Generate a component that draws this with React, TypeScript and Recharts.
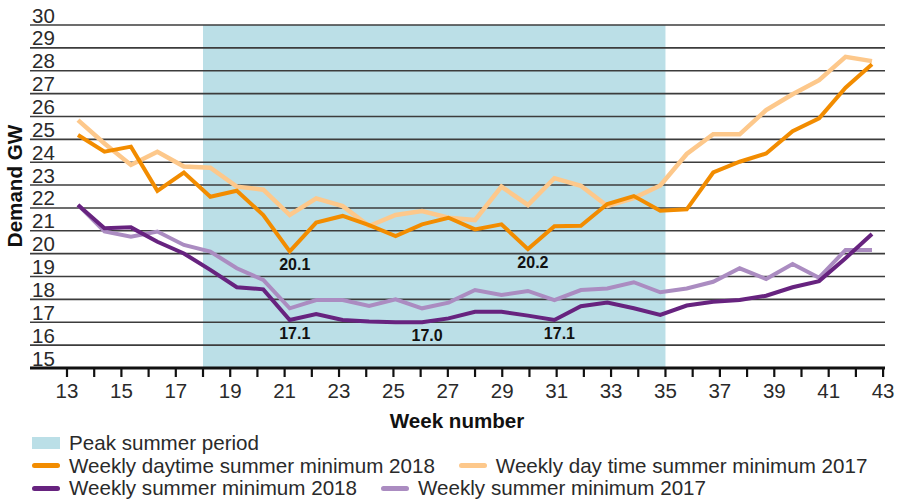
import React from 'react';
import { LineChart, Line, XAxis, YAxis, ReferenceArea, ReferenceLine } from 'recharts';

// week numbers 13..43, one value per week for each series (GW)
const weeks = [13, 14, 15, 16, 17, 18, 19, 20, 21, 22, 23, 24, 25, 26, 27, 28, 29, 30, 31, 32, 33, 34, 35, 36, 37, 38, 39, 40, 41, 42, 43];

const daytime2018 = [25.19, 24.46, 24.68, 22.75, 23.55, 22.49, 22.75, 21.69, 20.1, 21.36, 21.65, 21.25, 20.77, 21.28, 21.57, 21.06, 21.28, 20.2, 21.2, 21.22, 22.17, 22.52, 21.88, 21.94, 23.55, 24.02, 24.38, 25.36, 25.92, 27.26, 28.28];
const daytime2017 = [25.84, 24.82, 23.88, 24.46, 23.81, 23.76, 22.93, 22.8, 21.69, 22.42, 22.08, 21.21, 21.69, 21.86, 21.57, 21.47, 22.93, 22.13, 23.3, 22.97, 22.08, 22.43, 22.98, 24.36, 25.22, 25.22, 26.28, 26.97, 27.59, 28.61, 28.42];
const weekly2018 = [22.13, 21.11, 21.15, 20.52, 20.01, 19.29, 18.53, 18.44, 17.1, 17.36, 17.1, 17.03, 17.0, 17.0, 17.17, 17.46, 17.46, 17.29, 17.1, 17.7, 17.86, 17.61, 17.32, 17.73, 17.9, 17.97, 18.16, 18.53, 18.8, 19.8, 20.86];
const weekly2017 = [22.13, 20.97, 20.74, 20.97, 20.38, 20.09, 19.36, 18.85, 17.61, 17.97, 17.97, 17.71, 18.0, 17.61, 17.86, 18.41, 18.19, 18.37, 17.97, 18.41, 18.48, 18.75, 18.31, 18.48, 18.77, 19.36, 18.89, 19.55, 18.95, 20.16, 20.16];

// weeks whose minimum is labelled on the chart
const daytime2018Labels = [21, 30];
const weekly2018Labels = [21, 26, 31];

const peakSummer = [18, 35];
const yTicks = [15, 16, 17, 18, 19, 20, 21, 22, 23, 24, 25, 26, 27, 28, 29, 30];
const gridValues = [16, 17, 18, 19, 20, 21, 22, 23, 24, 25, 26, 27, 28, 29, 30];

const FONT = '"Liberation Sans", Arial, Helvetica, sans-serif';
const BLUE = '#bbdfe7';
const ORANGE = '#f28c00';
const LIGHT_ORANGE = '#fdc88b';
const PURPLE = '#67237f';
const LIGHT_PURPLE = '#ab8cc1';

const rows = weeks.map((week, i) => ({
  week,
  daytime2018: daytime2018[i],
  daytime2017: daytime2017[i],
  weekly2018: weekly2018[i],
  weekly2017: weekly2017[i],
}));

const makeDipLabel = (labelWeeks: number[]) => (props: any) => {
  const { x, y, index, value } = props;
  if (!labelWeeks.includes(weeks[index])) return null;
  return (
    <text x={x + 5} y={y + 19} textAnchor="middle" fontFamily={FONT} fontSize={16} fontWeight="bold" fill="#111">
      {Number(value).toFixed(1)}
    </text>
  );
};

const YTick = (props: any) => {
  const { y, payload } = props;
  return (
    <text x={32} y={y - 2.5} fontFamily={FONT} fontSize={20.5} fill="#2a2a2a">
      {payload.value}
    </text>
  );
};

const XTick = (props: any) => {
  const { x, payload } = props;
  if (payload.value % 2 === 0) return <g />;
  return (
    <text x={x} y={398} textAnchor="middle" fontFamily={FONT} fontSize={20.5} fill="#2a2a2a">
      {payload.value}
    </text>
  );
};

const legendRows = [
  [{ label: 'Peak summer period', color: BLUE, box: true }],
  [
    { label: 'Weekly daytime summer minimum 2018', color: ORANGE, box: false },
    { label: 'Weekly day time summer minimum 2017', color: LIGHT_ORANGE, box: false },
  ],
  [
    { label: 'Weekly summer minimum 2018', color: PURPLE, box: false },
    { label: 'Weekly summer minimum 2017', color: LIGHT_PURPLE, box: false },
  ],
];

const ChartLegend = () => (
  <div style={{ position: 'absolute', left: 32, top: 432, fontFamily: FONT, fontSize: 20.6, color: '#2a2a2a' }}>
    {legendRows.map((row, r) => (
      <div key={r} style={{ display: 'flex', alignItems: 'center', height: 22.5, whiteSpace: 'nowrap' }}>
        {row.map((item) => (
          <div key={item.label} style={{ display: 'flex', alignItems: 'center', marginRight: 24 }}>
            <span
              style={{
                display: 'inline-block',
                width: 28,
                height: item.box ? 12 : 5,
                borderRadius: item.box ? 0 : 3,
                background: item.color,
                marginRight: 9,
              }}
            />
            <span>{item.label}</span>
          </div>
        ))}
      </div>
    ))}
  </div>
);

export default function App() {
  return (
    <div style={{ position: 'absolute', left: 0, top: 0, width: 899, height: 499, background: '#fff' }}>
      <LineChart width={899} height={499} data={rows} margin={{ top: 25, right: 14, left: 30, bottom: 101 }}>
        <XAxis xAxisId="cat" dataKey="week" type="category" hide height={0} padding={{ left: 48, right: 13 }} />
        <XAxis
          xAxisId="num"
          dataKey="week"
          type="number"
          domain={[11.64, 43.07]}
          allowDataOverflow
          ticks={weeks}
          interval={0}
          height={30}
          tickSize={9}
          axisLine={{ stroke: '#111', strokeWidth: 3 }}
          tickLine={{ stroke: '#111', strokeWidth: 2.2 }}
          tick={<XTick />}
        />
        <YAxis
          domain={[15, 30]}
          ticks={yTicks}
          interval={0}
          mirror
          width={1}
          axisLine={false}
          tickLine={false}
          tick={<YTick />}
        />
        <ReferenceArea
          xAxisId="num"
          x1={peakSummer[0]}
          x2={peakSummer[1]}
          y1={15}
          y2={30}
          fill={BLUE}
          fillOpacity={1}
          stroke="none"
        />
        {gridValues.map((v) => (
          <ReferenceLine key={v} xAxisId="num" y={v} stroke="#3c3c3c" strokeWidth={1.6} />
        ))}
        <Line xAxisId="cat" type="linear" dataKey="weekly2017" stroke={LIGHT_PURPLE} strokeWidth={4} dot={false} isAnimationActive={false} />
        <Line
          xAxisId="cat"
          type="linear"
          dataKey="weekly2018"
          stroke={PURPLE}
          strokeWidth={4}
          dot={false}
          isAnimationActive={false}
          label={makeDipLabel(weekly2018Labels)}
        />
        <Line xAxisId="cat" type="linear" dataKey="daytime2017" stroke={LIGHT_ORANGE} strokeWidth={4.5} dot={false} isAnimationActive={false} />
        <Line
          xAxisId="cat"
          type="linear"
          dataKey="daytime2018"
          stroke={ORANGE}
          strokeWidth={4}
          dot={false}
          isAnimationActive={false}
          label={makeDipLabel(daytime2018Labels)}
        />
      </LineChart>
      <svg width={899} height={499} style={{ position: 'absolute', left: 0, top: 0, pointerEvents: 'none' }}>
        <text
          transform="translate(22,186) rotate(-90)"
          textAnchor="middle"
          fontFamily={FONT}
          fontSize={20.6}
          fontWeight="bold"
          fill="#111"
        >
          Demand GW
        </text>
        <text x={457} y={428} textAnchor="middle" fontFamily={FONT} fontSize={20.6} fontWeight="bold" fill="#111">
          Week number
        </text>
      </svg>
      <ChartLegend />
    </div>
  );
}
